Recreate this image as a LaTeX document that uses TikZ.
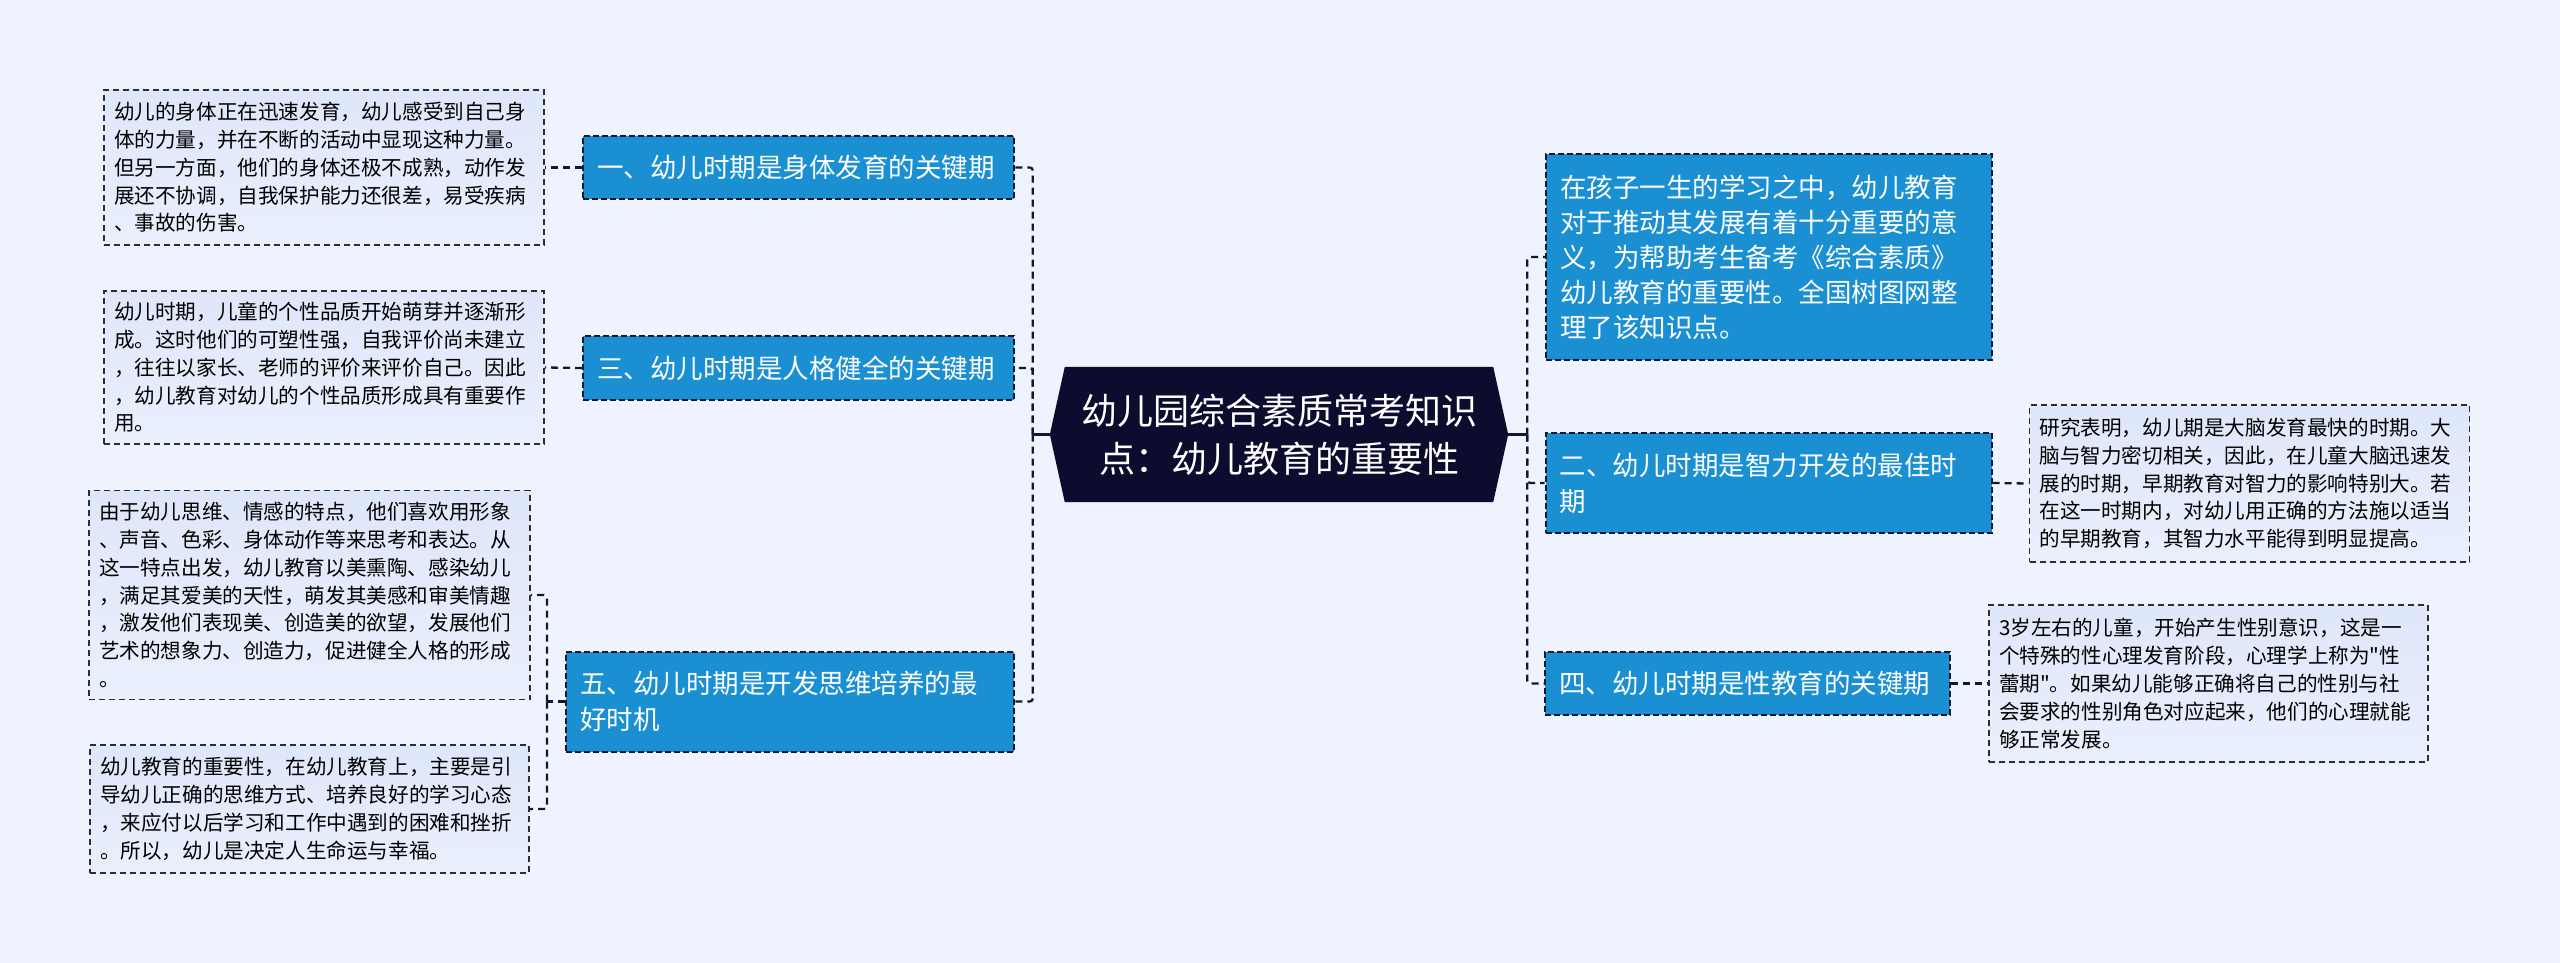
\documentclass[tikz,border=0pt]{standalone}
\usepackage{fontspec}
\newfontfamily\cjk{Noto Sans CJK SC}
\pgfdeclarelayer{back}
\pgfdeclarelayer{bg}
\pgfsetlayers{back,bg,main}
\definecolor{bgc}{HTML}{EEF3FE}
\definecolor{bluec}{HTML}{1A90D2}
\definecolor{hexc}{HTML}{0D0B2E}
\definecolor{linec}{HTML}{111833}
\definecolor{tfillA}{HTML}{DEE7FA}
\definecolor{tfillB}{HTML}{E9EFFC}
\definecolor{tborder}{HTML}{2A2E3A}
\begin{document}
\begin{tikzpicture}[x=1pt,y=-1pt,
 conn/.style={draw=linec, line width=2.3pt, dash pattern=on 7pt off 5pt, rounded corners=3pt},
 connsolid/.style={draw=linec, line width=2.3pt},
 bluebox/.style={fill=bluec, draw=linec, line width=2pt, dash pattern=on 6pt off 3pt, text=white, align=left, inner xsep=14pt, inner ysep=0pt, font=\cjk\fontsize{26.5}{36}\selectfont},
 tbox/.style={top color=tfillA, bottom color=tfillB, draw=tborder, line width=1.6pt, dash pattern=on 6pt off 4pt, text=black, align=left, inner xsep=10pt, inner ysep=0pt, font=\cjk\fontsize{20.6}{27.8}\selectfont},
 titlebox/.style={text=white, align=center, inner sep=0pt, font=\cjk\fontsize{36}{48}\selectfont}
]
\begin{pgfonlayer}{back}
\fill[bgc] (0,0) rectangle (2560,963);
\end{pgfonlayer}
\useasboundingbox (0,0) rectangle (2560,963);

% centre
\node[titlebox, minimum width=458pt, minimum height=135pt] (c) at (1279,434.5) {幼儿园综合素质常考知识\\点：幼儿教育的重要性};
\begin{pgfonlayer}{bg}
\fill[hexc] (c.west) -- ([xshift=15pt]c.north west) -- ([xshift=-15pt]c.north east) -- (c.east) -- ([xshift=-15pt]c.south east) -- ([xshift=15pt]c.south west) -- cycle;
\end{pgfonlayer}

% left branches
\node[bluebox, text width=403pt, minimum height=63pt] (b1) at (798.5,167.5) {一、幼儿时期是身体发育的关键期};
\node[bluebox, text width=403pt, minimum height=64pt] (b3) at (798.5,368) {三、幼儿时期是人格健全的关键期};
\node[bluebox, text width=420pt, minimum height=100pt] (b5) at (790,701.5) {五、幼儿时期是开发思维培养的最\\好时机};

\node[tbox, text width=420pt, minimum height=155pt] (t1) at (324,167.5) {幼儿的身体正在迅速发育，幼儿感受到自己身\\体的力量，并在不断的活动中显现这种力量。\\但另一方面，他们的身体还极不成熟，动作发\\展还不协调，自我保护能力还很差，易受疾病\\、事故的伤害。};
\node[tbox, text width=420pt, minimum height=153pt] (t2) at (324,367.5) {幼儿时期，儿童的个性品质开始萌芽并逐渐形\\成。这时他们的可塑性强，自我评价尚未建立\\，往往以家长、老师的评价来评价自己。因此\\，幼儿教育对幼儿的个性品质形成具有重要作\\用。};
\node[tbox, text width=421pt, minimum height=209pt] (t3) at (309.5,595) {由于幼儿思维、情感的特点，他们喜欢用形象\\、声音、色彩、身体动作等来思考和表达。从\\这一特点出发，幼儿教育以美熏陶、感染幼儿\\，满足其爱美的天性，萌发其美感和审美情趣\\，激发他们表现美、创造美的欲望，发展他们\\艺术的想象力、创造力，促进健全人格的形成\\。};
\node[tbox, text width=419pt, minimum height=128pt] (t4) at (309.5,809) {幼儿教育的重要性，在幼儿教育上，主要是引\\导幼儿正确的思维方式、培养良好的学习心态\\，来应付以后学习和工作中遇到的困难和挫折\\。所以，幼儿是决定人生命运与幸福。};

% right branches
\node[bluebox, text width=418pt, minimum height=206pt, font=\cjk\fontsize{26.5}{35}\selectfont] (r1) at (1769,257) {在孩子一生的学习之中，幼儿教育\\对于推动其发展有着十分重要的意\\义，为帮助考生备考《综合素质》\\幼儿教育的重要性。全国树图网整\\理了该知识点。};
\node[bluebox, text width=418pt, minimum height=100pt] (r2) at (1768.5,483) {二、幼儿时期是智力开发的最佳时\\期};
\node[bluebox, text width=377pt, minimum height=63pt] (r3) at (1747.5,683.5) {四、幼儿时期是性教育的关键期};

\node[tbox, text width=420pt, minimum height=157pt] (r2t) at (2249.5,483.5) {研究表明，幼儿期是大脑发育最快的时期。大\\脑与智力密切相关，因此，在儿童大脑迅速发\\展的时期，早期教育对智力的影响特别大。若\\在这一时期内，对幼儿用正确的方法施以适当\\的早期教育，其智力水平能得到明显提高。};
\node[tbox, text width=419pt, minimum height=157pt] (r3t) at (2208.5,683.5) {3岁左右的儿童，开始产生性别意识，这是一\\个特殊的性心理发育阶段，心理学上称为"性\\蕾期"。如果幼儿能够正确将自己的性别与社\\会要求的性别角色对应起来，他们的心理就能\\够正常发展。};

% connectors
\coordinate (lj) at ([xshift=-17pt]c.west);
\coordinate (rj) at ([xshift=19pt]c.east);
\draw[connsolid] (c.west) -- (lj);
\draw[connsolid] (c.east) -- (rj);
\draw[conn] (lj) |- (b1.east);
\draw[conn] (lj) |- (b3.east);
\draw[conn] (lj) |- (b5.east);
\draw[conn] (rj) |- (r1.west);
\draw[conn] (rj) |- (r2.west);
\draw[conn] (rj) |- (r3.west);

\draw[conn] (b1.west) -- (t1.east);
\draw[conn] (b3.west) -- (t2.east);
\coordinate (l5) at ([xshift=-18pt]b5.west);
\draw[conn] (b5.west) -- (l5);
\draw[conn] (l5) |- (t3.east);
\draw[conn] (l5) |- (t4.east);
\draw[conn] (r2.east) -- (r2t.west);
\draw[conn] (r3.east) -- (r3t.west);
\end{tikzpicture}
\end{document}
